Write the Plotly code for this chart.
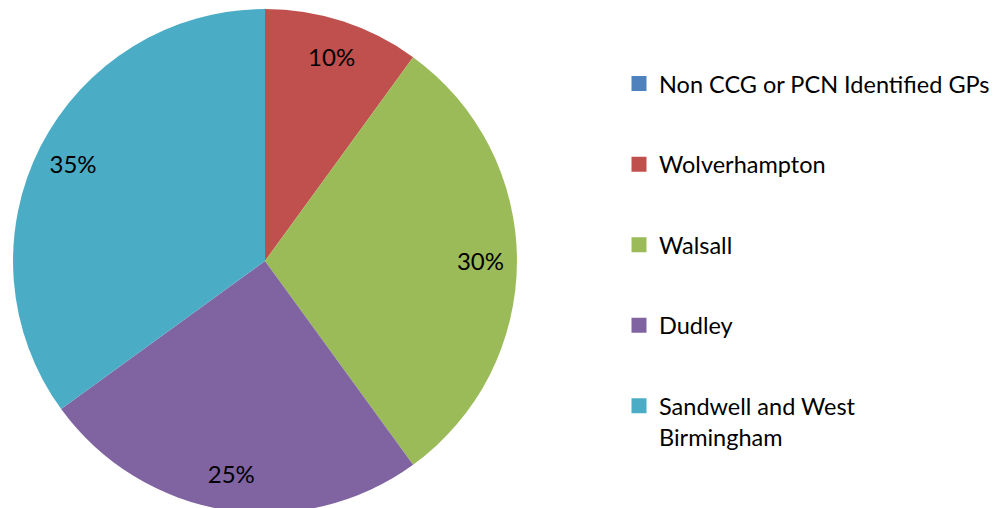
import plotly.graph_objects as go

labels = ["Non CCG or PCN Identified GPs", "Wolverhampton", "Walsall", "Dudley",
          "Sandwell and West<br>Birmingham"]
values = [0, 10, 30, 25, 35]
colors = ["#4F81BD", "#C0504D", "#9BBB59", "#8064A2", "#4BACC6"]

FONT = "Lato"
DOMAIN = dict(x=[0.005, 0.509], y=[0.006, 0.998])

fig = go.Figure()
# visible pie
fig.add_trace(go.Pie(
    labels=labels,
    values=values,
    sort=False,
    direction="clockwise",
    rotation=0,
    marker=dict(colors=colors, line=dict(width=0)),
    textinfo="none",
    showlegend=False,
    domain=DOMAIN,
    hoverinfo="label+percent",
))
# transparent ring that carries the percentage labels near the rim
fig.add_trace(go.Pie(
    labels=labels,
    values=values,
    sort=False,
    direction="clockwise",
    rotation=0,
    hole=0.71,
    marker=dict(colors=["rgba(0,0,0,0)"] * len(values), line=dict(width=0)),
    texttemplate=["%{percent:.0%}" if v > 0 else "" for v in values],
    textposition="inside",
    insidetextorientation="horizontal",
    textfont=dict(family=FONT, size=24, color="black"),
    showlegend=False,
    domain=DOMAIN,
    hoverinfo="label+percent",
))

for lab, col in zip(labels, colors):
    fig.add_trace(go.Scatter(
        x=[None], y=[None], mode="markers", name=lab,
        marker=dict(symbol="square", size=15, color=col),
        legendgroup=lab, showlegend=True,
    ))

fig.update_layout(
    width=1000, height=508,
    margin=dict(l=0, r=0, t=0, b=0),
    paper_bgcolor="white", plot_bgcolor="white",
    xaxis=dict(visible=False), yaxis=dict(visible=False),
    legend=dict(x=0.611, y=0.894, xanchor="left", yanchor="top",
                font=dict(family=FONT, size=23.5, color="black"),
                tracegroupgap=47, valign="top", bgcolor="rgba(0,0,0,0)"),
)

fig.write_html("out.html")
